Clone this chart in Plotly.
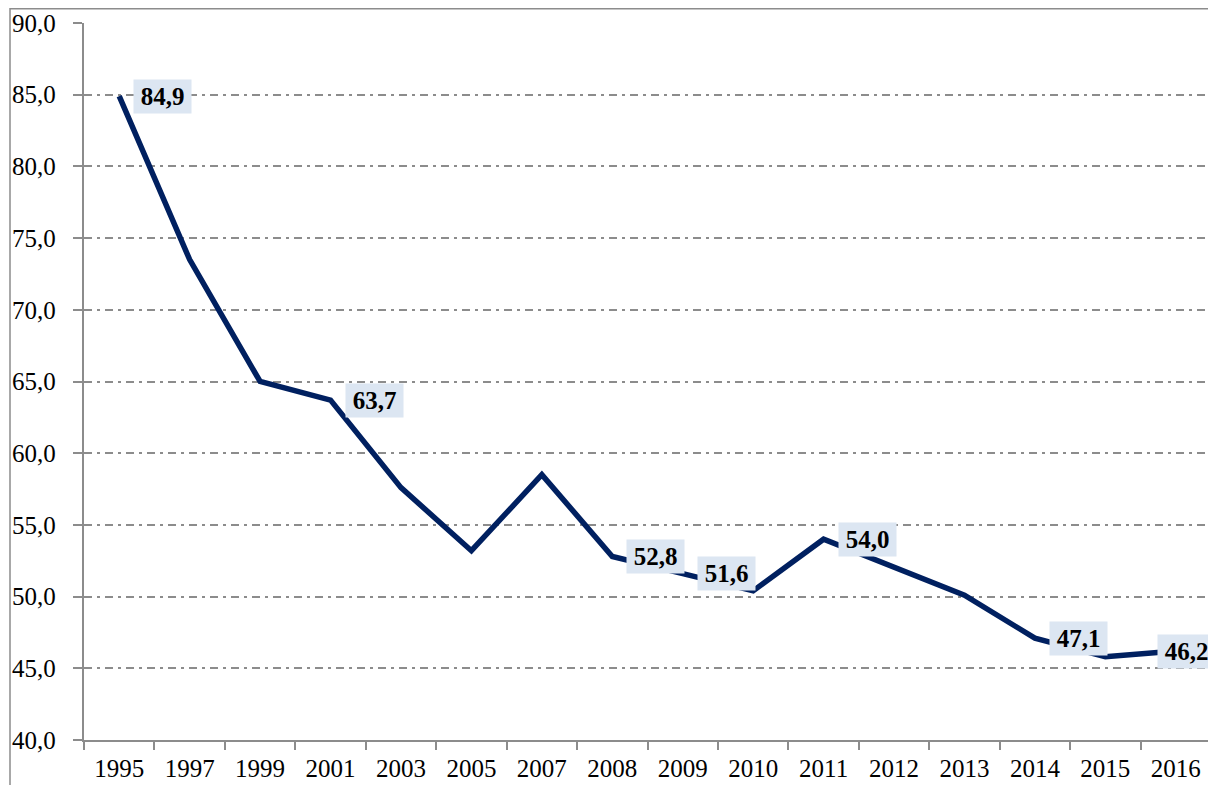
import plotly.graph_objects as go

years = ["1995", "1997", "1999", "2001", "2003", "2005", "2007", "2008",
         "2009", "2010", "2011", "2012", "2013", "2014", "2015", "2016"]
values = [84.9, 73.5, 65.0, 63.7, 57.6, 53.2, 58.5, 52.8,
          51.6, 50.4, 54.0, 52.1, 50.1, 47.1, 45.8, 46.2]
labelled_years = ["1995", "2001", "2008", "2009", "2011", "2014", "2016"]
label_shift = {"2016": -19}

FONT = "Liberation Serif"
GRID = "#8c8c8c"

# page body has an 8px default margin; the figure is sized to fit the window after it
W, H = 1208, 777
L, R, T, B = 76, 5, 15, 45

fig = go.Figure()
fig.add_trace(go.Scatter(
    x=years, y=values, mode="lines",
    line=dict(color="#002060", width=5.5),
    hoverinfo="skip", showlegend=False,
))

fig.update_layout(
    width=W, height=H,
    margin=dict(l=L, r=R, t=T, b=B, autoexpand=False),
    paper_bgcolor="white", plot_bgcolor="white",
    separators=",.",
    font=dict(family=FONT, size=25, color="black"),
    xaxis=dict(
        type="category", tickson="boundaries", automargin=False,
        ticks="outside", ticklen=8, tickwidth=1.5, tickcolor=GRID,
        showline=True, linecolor=GRID, linewidth=1.5,
        showgrid=False, zeroline=False,
        ticklabelstandoff=5,
        tickfont=dict(family=FONT, size=25, color="black"),
        range=[-0.5, len(years) - 0.5],
    ),
    yaxis=dict(
        range=[40, 90], dtick=5, tick0=40, tickformat=".1f",
        ticksuffix="\u00a0\u00a0", automargin=False,
        ticks="outside", ticklen=9, tickwidth=1.5, tickcolor=GRID,
        showline=True, linecolor=GRID, linewidth=1.5,
        showgrid=True, gridcolor=GRID, gridwidth=1.5,
        griddash="8px,5px,3px,5px",
        zeroline=False,
        tickfont=dict(family=FONT, size=25, color="black"),
    ),
)

for i, (yr, v) in enumerate(zip(years, values)):
    if yr in labelled_years:
        fig.add_annotation(
            x=i, y=v, xref="x", yref="y",
            text="<b>" + f"{v:.1f}".replace(".", ",") + "</b>",
            showarrow=False, xanchor="left", yanchor="middle",
            xshift=label_shift.get(yr, 14),
            bgcolor="#DCE6F2", borderpad=1, borderwidth=1,
            bordercolor="rgba(0,0,0,0)",
            width=55, height=31, align="center", valign="middle",
            font=dict(family=FONT, size=25, color="black"),
        )

# outer chart border (visible at left and top; right/bottom lie outside the picture)
pw = W - L - R
ph = H - T - B
fig.add_shape(
    type="rect", xref="paper", yref="paper",
    x0=(2 - L) / pw, x1=(W + 20 - L) / pw,
    y0=-(40 + B) / ph, y1=1 + (T - 0.8) / ph,
    line=dict(color="#8c8c8c", width=1.5), layer="below",
)

fig.write_html("out.html")
